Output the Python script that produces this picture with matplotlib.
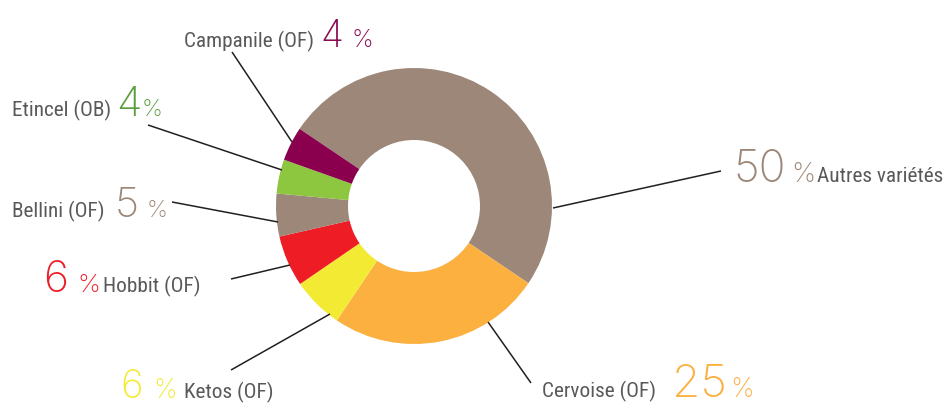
import matplotlib
matplotlib.use("Agg")
import matplotlib.pyplot as plt
from matplotlib import font_manager as fm

# ---- data ----
categories = ["Autres variétés", "Cervoise (OF)", "Ketos (OF)", "Hobbit (OF)",
              "Bellini (OF)", "Etincel (OB)", "Campanile (OF)"]
values = [50, 25, 6, 6, 5, 4, 4]
pct_labels = ["50", "25", "6", "6", "5", "4", "4"]

# ---- styles ----
colors = ["#9C8778", "#FBB040", "#F3EB33", "#EE1D25", "#9C8778", "#8DC63F", "#8A004F"]
num_colors = ["#9C8778", "#FBB040", "#F3EB33", "#EE1D25", "#9C8778", "#5A9E3F", "#8A0A50"]
text_gray = "#58595B"

names = {f.name for f in fm.fontManager.ttflist}
def pick(cands):
    for c in cands:
        if c in names:
            return c
    return "DejaVu Sans"

label_font = pick(["Roboto Condensed", "Liberation Sans Narrow", "Roboto", "DejaVu Sans"])
num_font = pick(["Inter", "Roboto", "DejaVu Sans"])

W, H = 952, 405
fig = plt.figure(figsize=(W / 100, H / 100), dpi=100)
ax = fig.add_axes([0, 0, 1, 1])

def Y(y):
    return H - y

cx, cy, R, r = 414, 206, 138, 66
ax.pie(values, colors=colors, startangle=146, counterclock=False,
       radius=R, center=(cx, Y(cy)), wedgeprops=dict(width=R - r, linewidth=0))
ax.set_xlim(0, W)
ax.set_ylim(0, H)
ax.set_aspect("auto")
ax.axis("off")

# leader lines (start on ring, end near label)
leaders = {
    "Autres variétés": ((553, 208), (721, 171)),
    "Cervoise (OF)": ((488, 322), (531, 383)),
    "Ketos (OF)": ((330, 314), (231, 370)),
    "Hobbit (OF)": ((290, 265), (231, 279)),
    "Bellini (OF)": ((278, 222), (172, 202)),
    "Etincel (OB)": ((282, 170), (148, 125)),
    "Campanile (OF)": ((292, 142), (232, 52)),
}
for cat in categories:
    (x0, y0), (x1, y1) = leaders[cat]
    ax.plot([x0, x1], [Y(y0), Y(y1)], color="#231F20", lw=1.1, solid_capstyle="butt")

# label layout: (label_x, num_x, pct_x, baseline, num_size, pct_size)
layout = {
    "Autres variétés": (817, 733, 791, 182, 32, 19.5),
    "Cervoise (OF)": (542, 672, 730, 397, 33, 19),
    "Ketos (OF)": (184, 120, 153, 398, 28, 19),
    "Hobbit (OF)": (103, 43, 77, 292, 31, 18.5),
    "Bellini (OF)": (12, 115, 147, 217, 30, 17),
    "Etincel (OB)": (12, 116, 142, 116, 30, 17),
    "Campanile (OF)": (184, 320, 352, 47, 27, 17.5),
}
for i, cat in enumerate(categories):
    lx, nx, px, base, ns, ps = layout[cat]
    ax.text(lx, Y(base), cat, family=label_font, fontsize=15.3, color=text_gray,
            ha="left", va="baseline")
    ax.text(nx, Y(base), pct_labels[i], family=num_font, fontweight=200,
            fontsize=ns, color=num_colors[i], ha="left", va="baseline")
    ax.text(px, Y(base), "%", family=num_font, fontweight=200,
            fontsize=ps, color=num_colors[i], ha="left", va="baseline")

fig.savefig("out.png", dpi=100)
